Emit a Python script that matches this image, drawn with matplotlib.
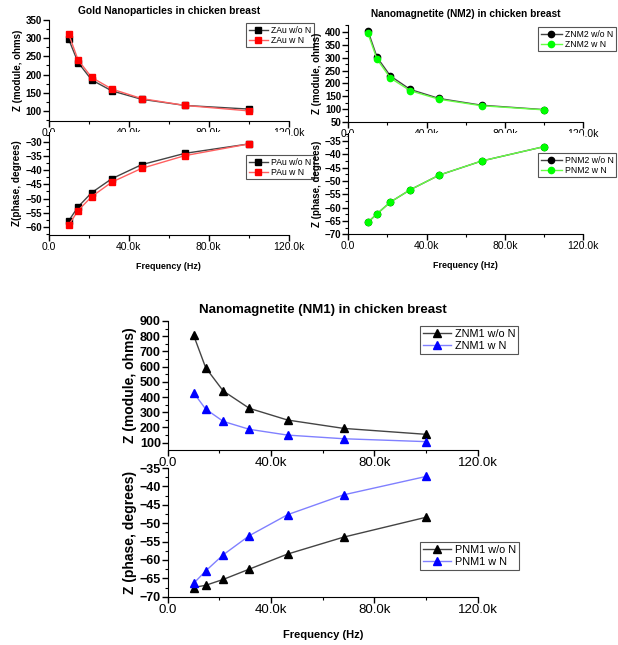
import matplotlib.pyplot as plt
from matplotlib.ticker import MultipleLocator, FuncFormatter

plt.rcParams['font.family'] = ['Liberation Sans', 'DejaVu Sans']

freq = [10000, 14700, 21500, 31600, 46400, 68100, 100000]

# Gold nanoparticles
zau_sin = [297, 233, 185, 155, 132, 115, 105]
zau_con = [311, 240, 192, 160, 134, 115, 100]
pau_sin = [-57.8, -52.9, -47.9, -43.0, -38.1, -34.1, -30.8]
pau_con = [-59.3, -54.2, -49.3, -44.2, -39.4, -34.9, -30.8]

# Nanomagnetita NM2
znm2_sin = [404, 301, 229, 177, 142, 116, 99]
znm2_con = [394, 293, 221, 172, 139, 114, 98]
pnm2_sin = [-65.5, -62.3, -57.9, -53.3, -47.8, -42.5, -37.1]
pnm2_con = [-65.5, -62.3, -57.9, -53.3, -47.8, -42.5, -37.1]

# Nanomagnetita NM1
znm1_sin = [808, 593, 440, 326, 249, 194, 155]
znm1_con = [429, 321, 240, 188, 150, 126, 107]
pnm1_sin = [-67.5, -66.9, -65.3, -62.5, -58.4, -53.8, -48.4]
pnm1_con = [-66.4, -63.0, -58.6, -53.4, -47.7, -42.3, -37.3]

W, H = 618, 645
fig = plt.figure(figsize=(W / 100, H / 100), dpi=100)


def ejes(x0, y0, x1, y1):
    # coordenadas en pixeles, y desde arriba
    return fig.add_axes([x0 / W, 1 - y1 / H, (x1 - x0) / W, (y1 - y0) / H])


def fmt_k(v, pos):
    if v == 0:
        return '0.0'
    return '%.1fk' % (v / 1000)


def estilo(ax, ylim, ymaj, fsx, fsy):
    ax.set_xlim(0, 120000)
    ax.set_ylim(*ylim)
    ax.spines['top'].set_visible(False)
    ax.spines['right'].set_visible(False)
    ax.xaxis.set_major_locator(MultipleLocator(40000))
    ax.xaxis.set_minor_locator(MultipleLocator(20000))
    ax.xaxis.set_major_formatter(FuncFormatter(fmt_k))
    ax.yaxis.set_major_locator(MultipleLocator(ymaj))
    ax.yaxis.set_minor_locator(MultipleLocator(ymaj / 2))
    ax.tick_params(which='major', direction='out', length=4, width=1, pad=1)
    ax.tick_params(which='minor', direction='out', length=2, width=0.8)
    ax.tick_params(axis='x', labelsize=fsx)
    ax.tick_params(axis='y', labelsize=fsy)
    for lab in ax.get_yticklabels():
        lab.set_fontweight('bold')


def leyenda(ax, x, y, fs, hl):
    lg = ax.legend(loc='upper left', bbox_to_anchor=(x / W, 1 - y / H), bbox_transform=fig.transFigure,
                   fontsize=fs, fancybox=False, edgecolor='#555555', framealpha=1,
                   handlelength=hl, handletextpad=0.3, borderpad=0.3, labelspacing=0.15, borderaxespad=0)
    lg.get_frame().set_linewidth(0.8)


# ---- Oro ----
ax = ejes(48.7, 20, 288.7, 120.7)
ax.plot(freq, zau_sin, color='#444444', lw=1, marker='s', ms=4.5, mfc='black', mec='black', label='ZAu w/o N')
ax.plot(freq, zau_con, color='#ff6060', lw=1, marker='s', ms=4.5, mfc='red', mec='red', label='ZAu w N')
estilo(ax, (73, 350), 50, 7.5, 7)
ax.set_ylabel('Z (module, ohms)', fontsize=7, fontweight='bold', labelpad=2)
ax.set_title('Gold Nanoparticles in chicken breast', fontsize=7.4, fontweight='bold', pad=4)
leyenda(ax, 246, 23, 6.2, 2.3)

ax = ejes(48.7, 132, 288.7, 235)
ax.plot(freq, pau_sin, color='#444444', lw=1, marker='s', ms=4.5, mfc='black', mec='black', label='PAu w/o N')
ax.plot(freq, pau_con, color='#ff6060', lw=1, marker='s', ms=4.5, mfc='red', mec='red', label='PAu w N')
estilo(ax, (-62.8, -26.6), 5, 7.5, 7)
ax.set_ylabel('Z(phase, degrees)', fontsize=7.2, fontweight='bold', labelpad=2)
ax.set_xlabel('Frequency (Hz)', fontsize=6.4, fontweight='bold', labelpad=7)
leyenda(ax, 246, 155, 6.2, 2.3)

# ---- NM2 ----
ax = ejes(348.3, 25, 583.3, 122.3)
ax.plot(freq, znm2_sin, color='#444444', lw=1, marker='o', ms=4.5, mfc='black', mec='black', label='ZNM2 w/o N')
ax.plot(freq, znm2_con, color='#66ff44', lw=1, marker='o', ms=4.5, mfc='#00ff00', mec='#00ff00', label='ZNM2 w N')
estilo(ax, (50, 426), 50, 7.5, 7)
ax.set_ylabel('Z (module, ohms)', fontsize=7, fontweight='bold', labelpad=2)
ax.set_title('Nanomagnetite (NM2) in chicken breast', fontsize=7.3, fontweight='bold', pad=6)
leyenda(ax, 538, 27, 6.2, 2.5)

ax = ejes(348.3, 133, 583.3, 234.3)
ax.plot(freq, pnm2_sin, color='#444444', lw=1, marker='o', ms=4.5, mfc='black', mec='black', label='PNM2 w/o N')
ax.plot(freq, pnm2_con, color='#66ff44', lw=1, marker='o', ms=4.5, mfc='#00ff00', mec='#00ff00', label='PNM2 w N')
estilo(ax, (-70, -32), 5, 7.5, 7)
ax.set_ylabel('Z (phase, degrees)', fontsize=7, fontweight='bold', labelpad=2)
ax.set_xlabel('Frequency (Hz)', fontsize=6.4, fontweight='bold', labelpad=7)
leyenda(ax, 538, 153, 6.2, 2.5)

# ---- NM1 ----
ax = ejes(167.7, 321, 477.7, 450)
ax.plot(freq, znm1_sin, color='#444444', lw=1, marker='^', ms=6, mfc='black', mec='black', label='ZNM1 w/o N')
ax.plot(freq, znm1_con, color='#8080ff', lw=1, marker='^', ms=6, mfc='blue', mec='blue', label='ZNM1 w N')
estilo(ax, (52, 900), 100, 9.5, 9)
ax.set_ylabel('Z (module, ohms)', fontsize=10, fontweight='bold', labelpad=2)
ax.set_title('Nanomagnetite (NM1) in chicken breast', fontsize=9.5, fontweight='bold', pad=6)
leyenda(ax, 420, 326, 7.8, 2.6)

ax = ejes(167.7, 468, 477.7, 596.7)
ax.plot(freq, pnm1_sin, color='#444444', lw=1, marker='^', ms=6, mfc='black', mec='black', label='PNM1 w/o N')
ax.plot(freq, pnm1_con, color='#8080ff', lw=1, marker='^', ms=6, mfc='blue', mec='blue', label='PNM1 w N')
estilo(ax, (-70, -35), 5, 9.5, 9)
ax.set_ylabel('Z (phase, degrees)', fontsize=10, fontweight='bold', labelpad=2)
ax.set_xlabel('Frequency (Hz)', fontsize=8, fontweight='bold', labelpad=10)
leyenda(ax, 420, 542, 7.8, 2.6)

fig.savefig('out.png', dpi=100)
